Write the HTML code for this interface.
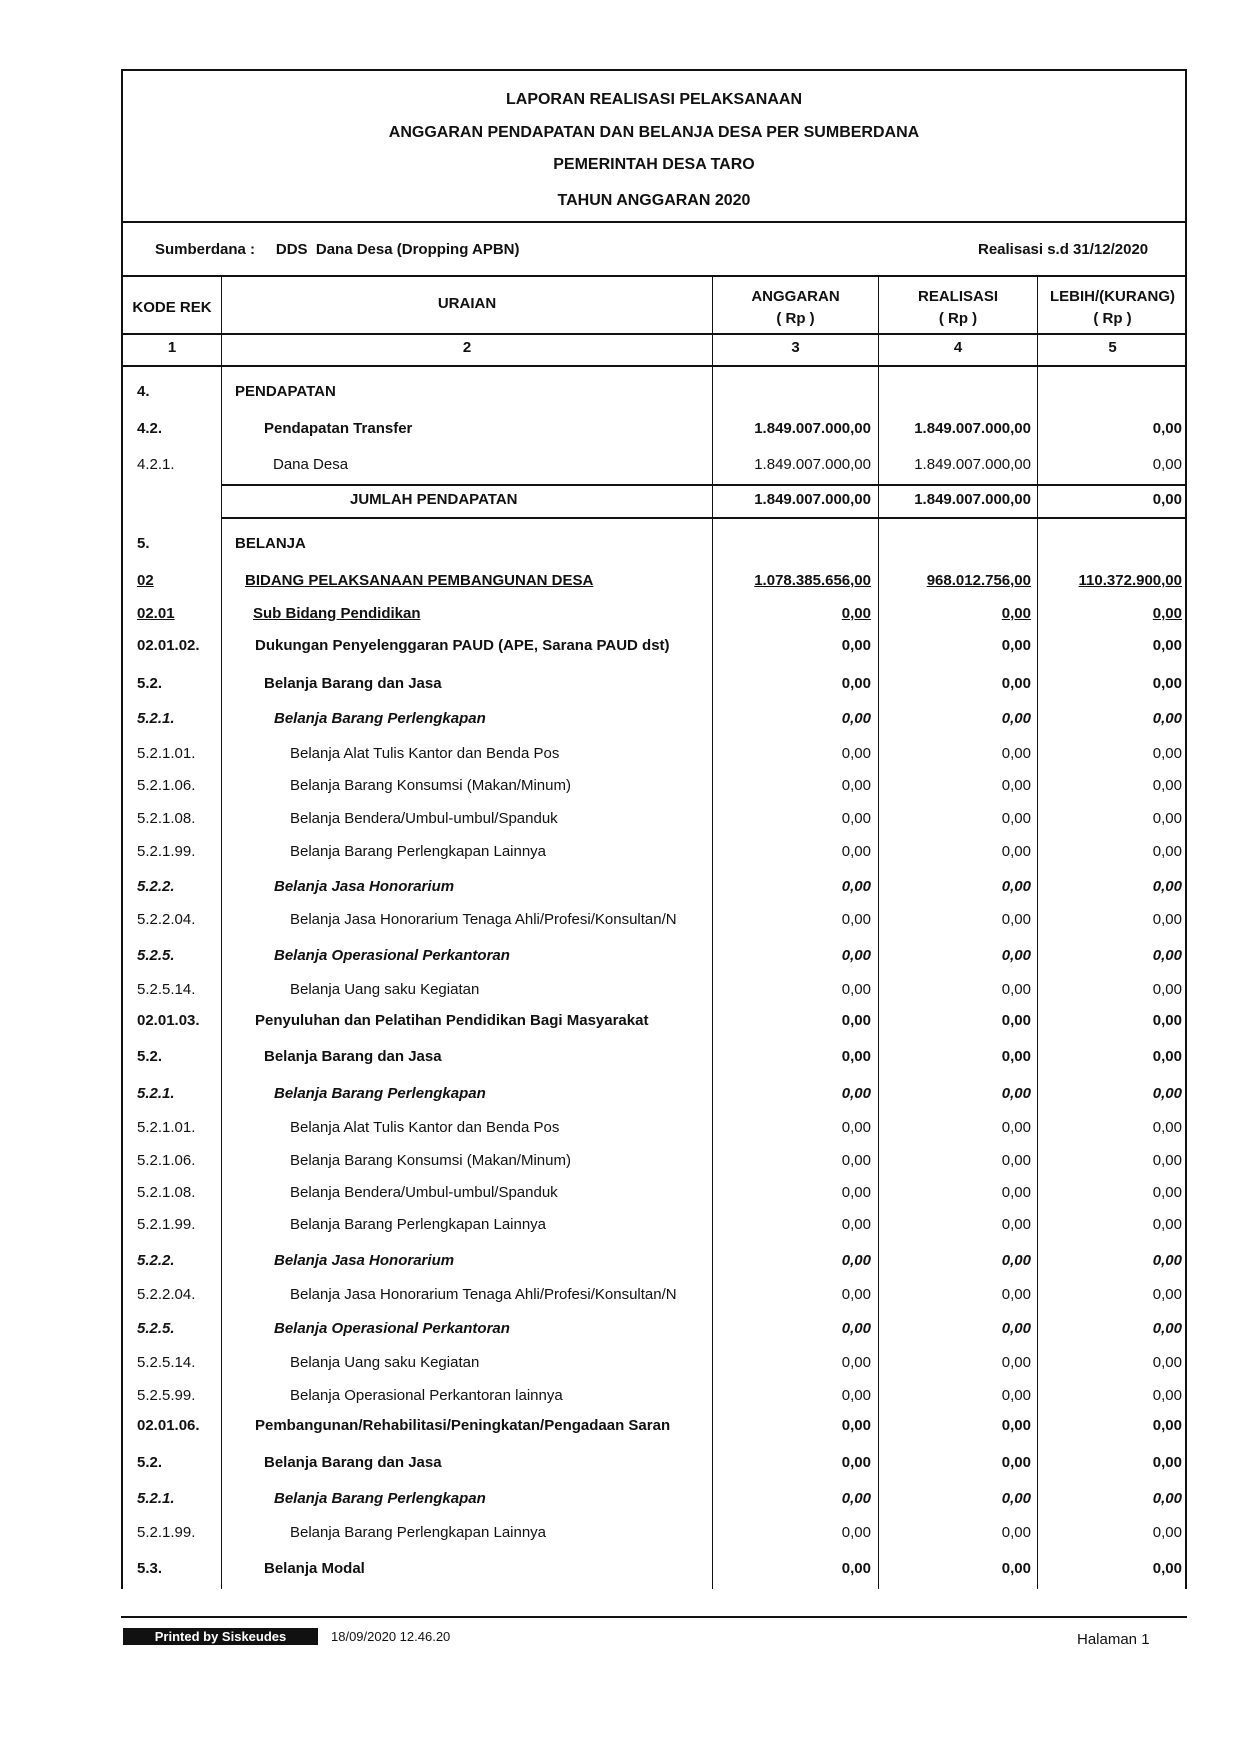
<!DOCTYPE html>
<html><head><meta charset="utf-8"><style>
body{margin:0;width:1240px;height:1753px;background:#fff;position:relative;font-family:"Liberation Sans",sans-serif;color:#111;overflow:hidden}
.l{position:absolute;background:#111}
.t{position:absolute;left:121px;width:1066px;text-align:center;font-weight:bold;font-size:16px}
.r{position:absolute;left:0;width:1240px;height:20px;line-height:20px;font-size:15px}
.r span{position:absolute;white-space:nowrap}
.k{left:137px}
.a,.b,.c{text-align:right}
.a{right:369px}.b{right:209px}.c{right:58px}
.B{font-weight:bold}.I{font-weight:bold;font-style:italic}
.U .u,.U .a,.U .b,.U .c{text-decoration:underline}
.U .k{text-decoration:underline}
.h{position:absolute;text-align:center;font-weight:bold;font-size:15px;line-height:22px}
</style></head><body>
<div class="l" style="left:121px;top:69px;width:1066px;height:2px"></div>
<div class="l" style="left:121px;top:69px;width:2px;height:1520px"></div>
<div class="l" style="left:1185px;top:69px;width:2px;height:1520px"></div>
<div class="l" style="left:121px;top:221px;width:1066px;height:2px"></div>
<div class="l" style="left:121px;top:275px;width:1066px;height:2px"></div>
<div class="l" style="left:121px;top:333px;width:1066px;height:2px"></div>
<div class="l" style="left:121px;top:365px;width:1066px;height:2px"></div>
<div class="l" style="left:221px;top:275px;width:1px;height:1314px"></div>
<div class="l" style="left:712px;top:275px;width:1px;height:1314px"></div>
<div class="l" style="left:878px;top:275px;width:1px;height:1314px"></div>
<div class="l" style="left:1037px;top:275px;width:1px;height:1314px"></div>
<div class="l" style="left:221px;top:484px;width:966px;height:2px"></div>
<div class="l" style="left:221px;top:517px;width:966px;height:2px"></div>
<div class="t" style="top:91px">LAPORAN REALISASI PELAKSANAAN</div>
<div class="t" style="top:124px">ANGGARAN PENDAPATAN DAN BELANJA DESA PER SUMBERDANA</div>
<div class="t" style="top:156px">PEMERINTAH DESA TARO</div>
<div class="t" style="top:192px">TAHUN ANGGARAN 2020</div>
<div class="h" style="left:155px;top:239px">Sumberdana :&nbsp;&nbsp;&nbsp;&nbsp; DDS&nbsp; Dana Desa (Dropping APBN)</div>
<div class="h" style="left:978px;top:239px">Realisasi s.d 31/12/2020</div>
<div class="h" style="left:123px;width:98px;top:297px">KODE REK</div>
<div class="h" style="left:222px;width:490px;top:293px">URAIAN</div>
<div class="h" style="left:713px;width:165px;top:286px">ANGGARAN<br>( Rp )</div>
<div class="h" style="left:879px;width:158px;top:286px">REALISASI<br>( Rp )</div>
<div class="h" style="left:1038px;width:149px;top:286px">LEBIH/(KURANG)<br>( Rp )</div>
<div class="h" style="left:123px;width:98px;top:337px">1</div>
<div class="h" style="left:222px;width:490px;top:337px">2</div>
<div class="h" style="left:713px;width:165px;top:337px">3</div>
<div class="h" style="left:879px;width:158px;top:337px">4</div>
<div class="h" style="left:1038px;width:149px;top:337px">5</div>

<div class="r B" style="top:382px"><span class="k">4.</span><span style="left:235px">PENDAPATAN</span></div>
<div class="r B" style="top:419px"><span class="k">4.2.</span><span style="left:264px">Pendapatan Transfer</span><span class="a">1.849.007.000,00</span><span class="b">1.849.007.000,00</span><span class="c">0,00</span></div>
<div class="r" style="top:455px"><span class="k">4.2.1.</span><span style="left:273px">Dana Desa</span><span class="a">1.849.007.000,00</span><span class="b">1.849.007.000,00</span><span class="c">0,00</span></div>
<div class="r B" style="top:490px"><span style="left:350px">JUMLAH PENDAPATAN</span><span class="a">1.849.007.000,00</span><span class="b">1.849.007.000,00</span><span class="c">0,00</span></div>
<div class="r B" style="top:534px"><span class="k">5.</span><span style="left:235px">BELANJA</span></div>
<div class="r B U" style="top:571px"><span class="k">02</span><span class="u" style="left:245px">BIDANG PELAKSANAAN PEMBANGUNAN DESA</span><span class="a">1.078.385.656,00</span><span class="b">968.012.756,00</span><span class="c">110.372.900,00</span></div>
<div class="r B U" style="top:604px"><span class="k">02.01</span><span class="u" style="left:253px">Sub Bidang Pendidikan</span><span class="a">0,00</span><span class="b">0,00</span><span class="c">0,00</span></div>
<div class="r B" style="top:636px"><span class="k">02.01.02.</span><span style="left:255px">Dukungan Penyelenggaran PAUD (APE, Sarana PAUD dst)</span><span class="a">0,00</span><span class="b">0,00</span><span class="c">0,00</span></div>
<div class="r B" style="top:674px"><span class="k">5.2.</span><span style="left:264px">Belanja Barang dan Jasa</span><span class="a">0,00</span><span class="b">0,00</span><span class="c">0,00</span></div>
<div class="r I" style="top:709px"><span class="k">5.2.1.</span><span style="left:274px">Belanja Barang Perlengkapan</span><span class="a">0,00</span><span class="b">0,00</span><span class="c">0,00</span></div>
<div class="r" style="top:744px"><span class="k">5.2.1.01.</span><span style="left:290px">Belanja Alat Tulis Kantor dan Benda Pos</span><span class="a">0,00</span><span class="b">0,00</span><span class="c">0,00</span></div>
<div class="r" style="top:776px"><span class="k">5.2.1.06.</span><span style="left:290px">Belanja Barang Konsumsi (Makan/Minum)</span><span class="a">0,00</span><span class="b">0,00</span><span class="c">0,00</span></div>
<div class="r" style="top:809px"><span class="k">5.2.1.08.</span><span style="left:290px">Belanja Bendera/Umbul-umbul/Spanduk</span><span class="a">0,00</span><span class="b">0,00</span><span class="c">0,00</span></div>
<div class="r" style="top:842px"><span class="k">5.2.1.99.</span><span style="left:290px">Belanja Barang Perlengkapan Lainnya</span><span class="a">0,00</span><span class="b">0,00</span><span class="c">0,00</span></div>
<div class="r I" style="top:877px"><span class="k">5.2.2.</span><span style="left:274px">Belanja Jasa Honorarium</span><span class="a">0,00</span><span class="b">0,00</span><span class="c">0,00</span></div>
<div class="r" style="top:910px"><span class="k">5.2.2.04.</span><span style="left:290px">Belanja Jasa Honorarium Tenaga Ahli/Profesi/Konsultan/N</span><span class="a">0,00</span><span class="b">0,00</span><span class="c">0,00</span></div>
<div class="r I" style="top:946px"><span class="k">5.2.5.</span><span style="left:274px">Belanja Operasional Perkantoran</span><span class="a">0,00</span><span class="b">0,00</span><span class="c">0,00</span></div>
<div class="r" style="top:980px"><span class="k">5.2.5.14.</span><span style="left:290px">Belanja Uang saku Kegiatan</span><span class="a">0,00</span><span class="b">0,00</span><span class="c">0,00</span></div>
<div class="r B" style="top:1011px"><span class="k">02.01.03.</span><span style="left:255px">Penyuluhan dan Pelatihan Pendidikan Bagi Masyarakat</span><span class="a">0,00</span><span class="b">0,00</span><span class="c">0,00</span></div>
<div class="r B" style="top:1047px"><span class="k">5.2.</span><span style="left:264px">Belanja Barang dan Jasa</span><span class="a">0,00</span><span class="b">0,00</span><span class="c">0,00</span></div>
<div class="r I" style="top:1084px"><span class="k">5.2.1.</span><span style="left:274px">Belanja Barang Perlengkapan</span><span class="a">0,00</span><span class="b">0,00</span><span class="c">0,00</span></div>
<div class="r" style="top:1118px"><span class="k">5.2.1.01.</span><span style="left:290px">Belanja Alat Tulis Kantor dan Benda Pos</span><span class="a">0,00</span><span class="b">0,00</span><span class="c">0,00</span></div>
<div class="r" style="top:1151px"><span class="k">5.2.1.06.</span><span style="left:290px">Belanja Barang Konsumsi (Makan/Minum)</span><span class="a">0,00</span><span class="b">0,00</span><span class="c">0,00</span></div>
<div class="r" style="top:1183px"><span class="k">5.2.1.08.</span><span style="left:290px">Belanja Bendera/Umbul-umbul/Spanduk</span><span class="a">0,00</span><span class="b">0,00</span><span class="c">0,00</span></div>
<div class="r" style="top:1215px"><span class="k">5.2.1.99.</span><span style="left:290px">Belanja Barang Perlengkapan Lainnya</span><span class="a">0,00</span><span class="b">0,00</span><span class="c">0,00</span></div>
<div class="r I" style="top:1251px"><span class="k">5.2.2.</span><span style="left:274px">Belanja Jasa Honorarium</span><span class="a">0,00</span><span class="b">0,00</span><span class="c">0,00</span></div>
<div class="r" style="top:1285px"><span class="k">5.2.2.04.</span><span style="left:290px">Belanja Jasa Honorarium Tenaga Ahli/Profesi/Konsultan/N</span><span class="a">0,00</span><span class="b">0,00</span><span class="c">0,00</span></div>
<div class="r I" style="top:1319px"><span class="k">5.2.5.</span><span style="left:274px">Belanja Operasional Perkantoran</span><span class="a">0,00</span><span class="b">0,00</span><span class="c">0,00</span></div>
<div class="r" style="top:1353px"><span class="k">5.2.5.14.</span><span style="left:290px">Belanja Uang saku Kegiatan</span><span class="a">0,00</span><span class="b">0,00</span><span class="c">0,00</span></div>
<div class="r" style="top:1386px"><span class="k">5.2.5.99.</span><span style="left:290px">Belanja Operasional Perkantoran lainnya</span><span class="a">0,00</span><span class="b">0,00</span><span class="c">0,00</span></div>
<div class="r B" style="top:1416px"><span class="k">02.01.06.</span><span style="left:255px">Pembangunan/Rehabilitasi/Peningkatan/Pengadaan Saran</span><span class="a">0,00</span><span class="b">0,00</span><span class="c">0,00</span></div>
<div class="r B" style="top:1453px"><span class="k">5.2.</span><span style="left:264px">Belanja Barang dan Jasa</span><span class="a">0,00</span><span class="b">0,00</span><span class="c">0,00</span></div>
<div class="r I" style="top:1489px"><span class="k">5.2.1.</span><span style="left:274px">Belanja Barang Perlengkapan</span><span class="a">0,00</span><span class="b">0,00</span><span class="c">0,00</span></div>
<div class="r" style="top:1523px"><span class="k">5.2.1.99.</span><span style="left:290px">Belanja Barang Perlengkapan Lainnya</span><span class="a">0,00</span><span class="b">0,00</span><span class="c">0,00</span></div>
<div class="r B" style="top:1559px"><span class="k">5.3.</span><span style="left:264px">Belanja Modal</span><span class="a">0,00</span><span class="b">0,00</span><span class="c">0,00</span></div>

<div class="l" style="left:121px;top:1616px;width:1066px;height:2px"></div>
<div style="position:absolute;left:123px;top:1628px;width:195px;height:17px;background:#111;color:#fff;font-size:13px;font-weight:bold;text-align:center;line-height:17px">Printed by Siskeudes</div>
<div style="position:absolute;left:331px;top:1628px;font-size:13px;line-height:17px">18/09/2020 12.46.20</div>
<div style="position:absolute;left:1077px;top:1631px;font-size:15px;line-height:18px">Halaman 1</div>
</body></html>
